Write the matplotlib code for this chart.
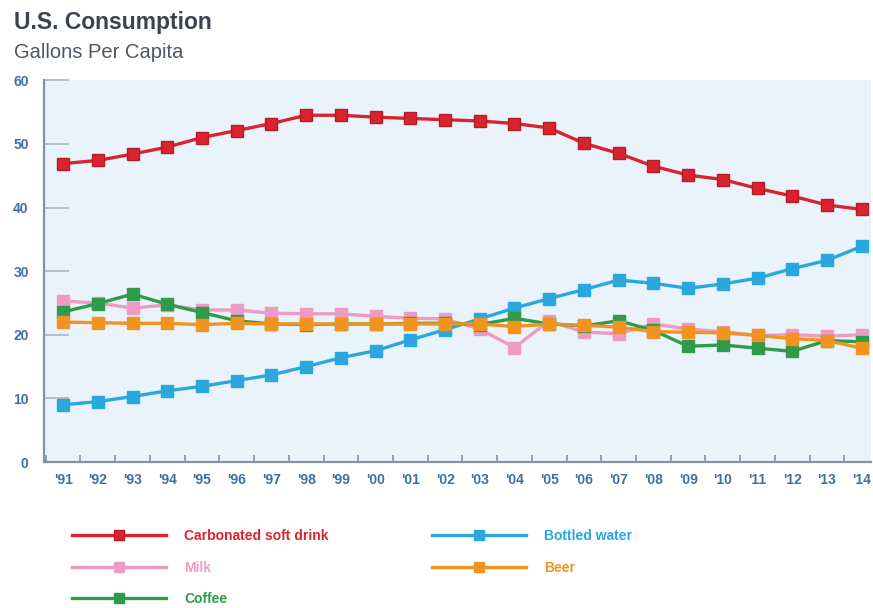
import matplotlib.pyplot as plt
from matplotlib.ticker import MultipleLocator

# gallons per capita, 1991-2014
years = list(range(1991, 2015))
year_labels = ["'" + str(y)[2:] for y in years]

soft_drink = [46.9, 47.4, 48.4, 49.5, 51.0, 52.1, 53.2, 54.5, 54.5, 54.2, 54.0, 53.8,
              53.6, 53.2, 52.5, 50.1, 48.5, 46.5, 45.1, 44.4, 43.0, 41.8, 40.4, 39.7]
bottled_water = [9.0, 9.5, 10.3, 11.2, 11.9, 12.8, 13.7, 15.0, 16.4, 17.5, 19.2, 20.8,
                 22.5, 24.2, 25.7, 27.1, 28.6, 28.1, 27.3, 28.0, 28.9, 30.4, 31.7, 33.9]
milk = [25.3, 25.0, 24.2, 24.7, 23.9, 23.9, 23.4, 23.3, 23.3, 22.9, 22.6, 22.5,
        20.9, 18.0, 22.2, 20.4, 20.2, 21.7, 20.9, 20.5, 19.9, 20.0, 19.8, 20.0]
beer = [22.0, 21.9, 21.8, 21.8, 21.6, 21.8, 21.7, 21.7, 21.7, 21.7, 21.7, 21.7,
        21.7, 21.3, 21.7, 21.5, 21.2, 20.5, 20.4, 20.3, 19.9, 19.4, 19.1, 17.9]
coffee = [23.6, 24.9, 26.4, 24.8, 23.5, 22.2, 21.7, 21.6, 21.7, 21.7, 21.8, 21.8,
          21.6, 22.6, 21.7, 21.4, 22.2, 20.7, 18.2, 18.4, 17.9, 17.4, 19.1, 18.9]

red = '#d9232e'
blue = '#2aa8de'
pink = '#ee9ac4'
orange = '#f0931f'
green = '#2f9b4a'
tick_color = '#3f6fa3'

plt.rcParams['font.family'] = ['Liberation Sans', 'DejaVu Sans']

fig = plt.figure(figsize=(8.73, 6.08), dpi=100)
ax = fig.add_axes([0.0504, 0.240, 0.947, 0.628])
ax.set_facecolor('#eaf3fb')

style = dict(lw=2.4, marker='s', markersize=8)
l_water, = ax.plot(years, bottled_water, color=blue, label='Bottled water', **style)
l_milk, = ax.plot(years, milk, color=pink, label='Milk', **style)
l_coffee, = ax.plot(years, coffee, color=green, label='Coffee', **style)
l_beer, = ax.plot(years, beer, color=orange, label='Beer', **style)
l_soda, = ax.plot(years, soft_drink, color=red, label='Carbonated soft drink',
                  markeredgecolor='#b51d26', **style)

ax.set_xlim(1990.45, 2014.26)
ax.set_ylim(0, 60)
ax.set_xticks(years)
ax.set_xticklabels(year_labels)
ax.xaxis.set_minor_locator(MultipleLocator(1, offset=0.5))
ax.set_yticks(range(0, 61, 10))

for side in ['top', 'right']:
    ax.spines[side].set_visible(False)
for side in ['left', 'bottom']:
    ax.spines[side].set_color('#8592a6')
    ax.spines[side].set_linewidth(1.6)

ax.tick_params(axis='x', which='major', length=0, pad=8, labelsize=10,
               labelcolor=tick_color)
ax.tick_params(axis='x', which='minor', direction='in', length=5, width=1.2,
               color='#8592a6')
ax.tick_params(axis='y', direction='in', length=18, width=1.4, color='#b5bfcc',
               pad=11, labelsize=10, labelcolor=tick_color)
for lab in ax.get_xticklabels() + ax.get_yticklabels():
    lab.set_fontweight('bold')

fig.text(0.016, 0.952, 'U.S. Consumption', fontsize=16.5, fontweight='bold',
         color='#3a4450', va='baseline')
fig.text(0.016, 0.905, 'Gallons Per Capita', fontsize=14.5, color='#4f5761',
         va='baseline')

leg = fig.legend(handles=[l_soda, l_milk, l_coffee, l_water, l_beer], ncol=2,
                 loc='upper left', bbox_to_anchor=(0.068, 0.15), frameon=False,
                 handlelength=6.8, handletextpad=1.3, columnspacing=7.4,
                 labelspacing=1.25, fontsize=10, labelcolor='linecolor',
                 markerscale=0.9)
for t in leg.get_texts():
    t.set_fontweight('bold')

fig.savefig('out.png', dpi=100)
